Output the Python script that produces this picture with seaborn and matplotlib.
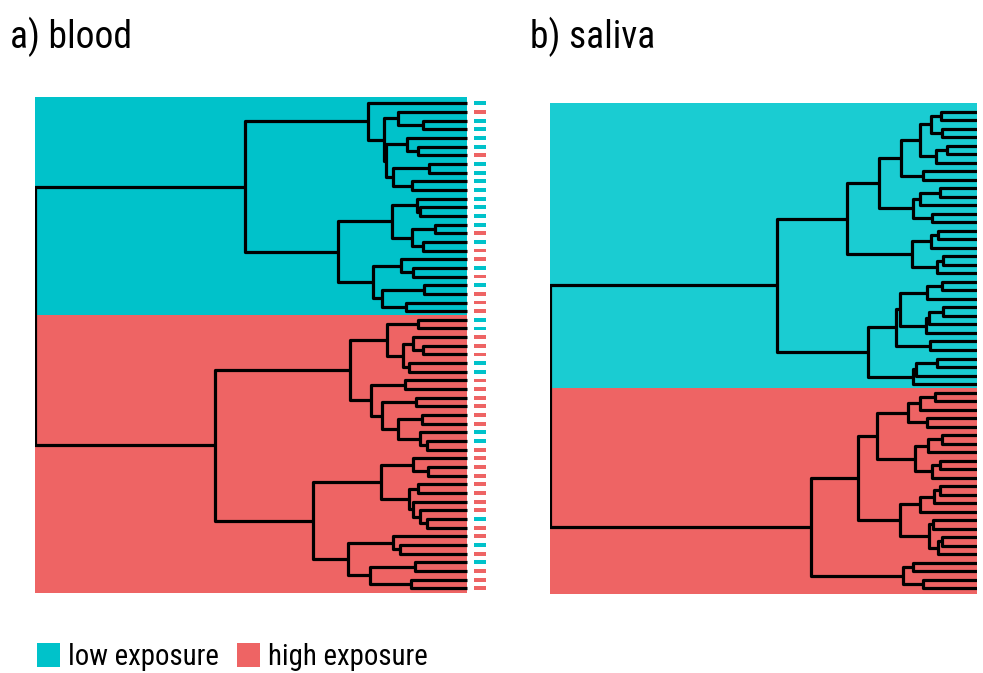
import matplotlib
matplotlib.use("Agg")
import matplotlib.pyplot as plt
from matplotlib.patches import Rectangle
from matplotlib import font_manager
import seaborn as sns
import pandas as pd

# ---------------- data ----------------
# dendrograms as nested [merge_height, left, right]; integers are leaves (samples)
blood_tree = [432,
    [222,
        [99, 1, [83, [69, 2, [44, 3, 4]],
                    [81, [60, 5, [49, 6, 7]], [74, [38, 8, 9], [55, 10, 11]]]]],
        [129,
            [75, [50, 12, [47, 13, 14]], [55, [32, 15, 16], [44, 17, 18]]],
            [94, [66, 19, [54, 20, 21]], [85, [43, 22, 23], [61, 24, 25]]]]],
    [252,
        [117,
            [80, [49, 26, 27], [64, [54, 28, [44, 29, 30]], [58, 31, 32]]],
            [96, [62, 33, 34], [85, [51, 35, 36], [69, [45, 37, 38], [47, 39, [40, 40, 41]]]]]],
        [154,
            [86, [54, 42, [39, 43, 44]], [58, [49, 45, 46], [54, 47, [47, 48, [40, 49, 50]]]]],
            [119, [74, 51, [67, 52, 53]], [97, [52, 54, 55], [56, 56, 57]]]]]]

saliva_tree = [427,
    [200,
        [130,
            [98,
                [76, [57, [46, [36, 1, 2], [35, 3, 4]], [41, [30, 5, 6], 7]], [54, 8, 9]],
                [64, [57, [37, 10, 11], 12], [45, 13, 14]]],
            [65, [46, [39, 15, 16], 17], [40, [34, 18, 19], 20]]],
        [109,
            [81, [77, [50, [35, 21, 22], 23], [51, [48, [34, 24, 25], 26], 27]], [47, 28, 29]],
            [64, [61, [40, 30, 31], 32], 33]]],
    [166,
        [119,
            [100, [69, [57, [42, 34, 35], 36], [50, 37, 38]],
                  [62, [49, [35, 39, 40], 41], [45, [37, 42, 43], 44]]],
            [77, [57, [43, [37, 45, 46], 47], 48],
                 [48, [44, 49, 50], [39, [35, 51, 52], 53]]]],
        [74, [64, 54, 55], [54, 56, 57]]]]

# exposure group of each blood sample, in dendrogram leaf order
blood_exposure = ["low", "high", "low", "low", "low", "low", "high", "low", "low", "low",
                  "low", "low", "low", "low", "low", "high", "low", "high", "high", "low",
                  "high", "low", "high", "high", "high", "low", "low", "high", "high", "high",
                  "low", "low", "high", "high", "high", "high", "high", "high", "low", "low",
                  "high", "high", "high", "high", "high", "high", "high", "high", "low", "high",
                  "high", "low", "high", "low", "high", "high", "high"]

group_labels = ["low exposure", "high exposure"]
panel_titles = ["a) blood", "b) saliva"]

# ---------------- style ----------------
LOW_BLOOD = "#00C2CA"
LOW_SALIVA = "#1ACCD2"
HIGH = "#EE6464"

sns.set_theme(style="white")
names = {f.name for f in font_manager.fontManager.ttflist}
text_family, legend_size, title_size = "Liberation Sans", 18.2, 24.5
for fam, lsize, tsize in [("Liberation Sans Narrow", 21.5, 29), ("Arial Narrow", 21.5, 29),
                          ("Nimbus Sans Narrow", 21.5, 29), ("Roboto Condensed", 20.8, 27)]:
    if fam in names:
        text_family, legend_size, title_size = fam, lsize, tsize
        break
plt.rcParams["font.family"] = [text_family, "DejaVu Sans"]
plt.rcParams["text.color"] = "black"

W, H = 983, 673
fig = plt.figure(figsize=(W / 100, H / 100), dpi=100)


def px_axes(left, top, right, bottom):
    return fig.add_axes([left / W, 1 - bottom / H, (right - left) / W, (bottom - top) / H])


def layout(tree):
    leaves, rows = [], []

    def rec(node):
        if isinstance(node, int):
            leaves.append(node)
            return float(len(leaves)), 0.0
        h, a, b = node
        ya, ha = rec(a)
        yb, hb = rec(b)
        sid = len(rows) // 4
        for k, (x, y) in enumerate([(ha, ya), (h, ya), (h, yb), (hb, yb)]):
            rows.append({"seg": sid, "k": k, "x": x, "y": y})
        return (ya + yb) / 2, h

    rec(tree)
    return pd.DataFrame(rows), leaves


def count_leaves(node):
    return 1 if isinstance(node, int) else count_leaves(node[1]) + count_leaves(node[2])


def draw_panel(ax, tree, low_color, ylim, xright):
    df, leaves = layout(tree)
    root_h = tree[0]
    n_top = count_leaves(tree[1])
    bound = n_top + 0.5
    top, bottom = ylim[1], ylim[0]
    # cluster backgrounds
    ax.barh(y=(top + bound) / 2, width=root_h, left=0, height=bound - top,
            color=low_color, linewidth=0, zorder=0)
    ax.barh(y=(bound + bottom) / 2, width=root_h, left=0, height=bottom - bound,
            color=HIGH, linewidth=0, zorder=0)
    sns.lineplot(data=df, x="x", y="y", units="seg", estimator=None, sort=False,
                 color="black", lw=2.3, solid_joinstyle="round", solid_capstyle="butt",
                 ax=ax, zorder=3)
    ax.set_xlim(root_h, xright)
    ax.set_ylim(*ylim)
    ax.axis("off")


# ---- blood panel ----
ax1 = px_axes(35, 97, 487, 593)
draw_panel(ax1, blood_tree, LOW_BLOOD, (57.54, 0.273), -20)
strip_colors = [LOW_BLOOD if g == "low" else HIGH for g in blood_exposure]
ax1.barh(y=list(range(1, len(blood_exposure) + 1)), width=-12, left=-7, height=0.45,
         color=strip_colors, linewidth=0)

# ---- saliva panel ----
ax2 = px_axes(550, 103, 977, 594)
draw_panel(ax2, saliva_tree, LOW_SALIVA, (57.67, -0.02), 0)

# ---- titles ----
fig.text(10 / W, 1 - 37 / H, panel_titles[0], fontsize=title_size, ha="left", va="center",
         color="black")
fig.text(530 / W, 1 - 37 / H, panel_titles[1], fontsize=title_size, ha="left", va="center",
         color="black")

# ---- legend ----
leg_y = 655
for x0, col, lab in [(37, LOW_BLOOD, group_labels[0]), (237, HIGH, group_labels[1])]:
    fig.add_artist(Rectangle((x0 / W, 1 - (leg_y + 12) / H), 23 / W, 24 / H,
                             transform=fig.transFigure, color=col, linewidth=0))
    fig.text((x0 + 31) / W, 1 - (leg_y + 2) / H, lab, fontsize=legend_size,
             ha="left", va="center", color="black")

fig.savefig("out.png", dpi=100)
